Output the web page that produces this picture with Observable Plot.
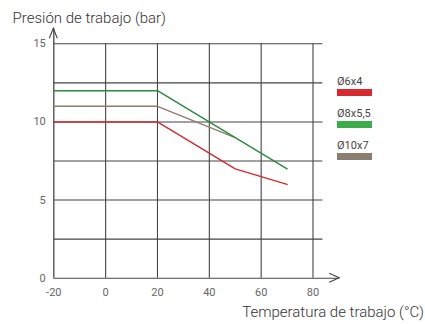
<!DOCTYPE html>
<html>
<head>
<meta charset="utf-8">
<script src="https://cdn.jsdelivr.net/npm/d3@7"></script>
<script src="https://cdn.jsdelivr.net/npm/@observablehq/plot@0.6"></script>
<style>
  body { margin: 0; background: #fff; }
  #wrap { position: relative; width: 425px; height: 324px; font-family: Roboto, "Liberation Sans", sans-serif; }
  #wrap svg { position: absolute; left: 0; top: 0; }
  .ttl { position: absolute; font-size: 15px; font-weight: 300; color: #333; white-space: nowrap; line-height: 1; }
  .leg { position: absolute; left: 337px; font-size: 11px; color: #444; line-height: 1; white-space: nowrap; }
  .sw { position: absolute; left: 337px; width: 35px; height: 6.5px; }
</style>
</head>
<body>
<div id="wrap"></div>
<script>
// ---- data ----
const temps = [-20, 20, 50, 70];
const temps10x7 = [-20, 20, 50];
const pres6x4 = [10, 10, 7, 6];
const pres8x55 = [12, 12, 9, 7];
const pres10x7 = [11, 11, 9];
const seriesNames = ["Ø6x4", "Ø8x5,5", "Ø10x7"];
const lineColors = ["#d42a30", "#2a8a3e", "#8a7e70"];
const legendColors = ["#d42a30", "#3cab4b", "#8a7e70"];
const xTicks = [-20, 0, 20, 40, 60, 80];
const yTicks = [0, 5, 10, 15];
const xGrid = [0, 20, 40, 60, 80];
const yGrid = [2.5, 5, 7.5, 10, 12.5, 15];
const yTitle = "Presión de trabajo (bar)";
const xTitle = "Temperatura de trabajo (°C)";

const rows = [];
[[temps, pres6x4], [temps, pres8x55], [temps10x7, pres10x7]].forEach(([t, p], i) => {
  t.forEach((x, j) => rows.push({serie: seriesNames[i], t: x, p: p[j]}));
});
// draw order: brown, red, green on top
const order = [seriesNames[2], seriesNames[0], seriesNames[1]];

const xMin = -20, gridEnd = 83.8, xTip = 90.3, yTip = 15.96;

const plot = Plot.plot({
  width: 425,
  height: 324,
  marginLeft: 53.3,
  marginRight: 112.5,
  marginTop: 43.3,
  marginBottom: 46.3,
  style: {fontFamily: "Roboto, 'Liberation Sans', sans-serif", fontSize: "11px", color: "#666", background: "transparent"},
  x: {domain: [-20, 80], ticks: xTicks, tickSize: 0, tickPadding: 10, tickFormat: d => String(d), label: null},
  y: {domain: [0, 15], ticks: yTicks, tickSize: 0, tickPadding: 8, tickFormat: d => String(d), label: null},
  color: {domain: seriesNames, range: lineColors},
  marks: [
    Plot.ruleY(yGrid, {x1: xMin, x2: gridEnd, stroke: "#444", strokeWidth: 1.1}),
    Plot.ruleX(xGrid, {y1: 0, y2: 15, stroke: "#444", strokeWidth: 1.1}),
    Plot.ruleY([0], {x1: xMin, x2: xTip, stroke: "#444", strokeWidth: 1.1}),
    Plot.ruleX([xMin], {y1: 0, y2: yTip, stroke: "#555", strokeWidth: 1.4}),
    ...order.map(s => Plot.line(rows.filter(d => d.serie === s), {x: "t", y: "p", stroke: "serie", strokeWidth: 1.4}))
  ]
});

const wrap = document.getElementById("wrap");
wrap.appendChild(plot);

// arrowheads drawn at scale positions
const sx = plot.scale("x"), sy = plot.scale("y");
const svg = d3.select(plot);
const ax = sx.apply(xTip), ay = sy.apply(0);
svg.append("path").attr("d", `M${ax - 10},${ay - 4.5}L${ax},${ay}L${ax - 10},${ay + 4.5}`)
  .attr("fill", "none").attr("stroke", "#444").attr("stroke-width", 1.1);
const bx = sx.apply(xMin), by = sy.apply(yTip);
svg.append("path").attr("d", `M${bx - 4},${by + 10}L${bx},${by}L${bx + 4},${by + 10}`)
  .attr("fill", "none").attr("stroke", "#444").attr("stroke-width", 1.1);

// titles
const t1 = document.createElement("div");
t1.className = "ttl"; t1.textContent = yTitle;
t1.style.left = "12.5px"; t1.style.top = "11px";
wrap.appendChild(t1);
const t2 = document.createElement("div");
t2.className = "ttl"; t2.textContent = xTitle;
t2.style.right = "1px"; t2.style.top = "305px";
wrap.appendChild(t2);

// legend
const legTop = [75.5, 107.5, 139.5];
const swTop = [89.3, 121.2, 153.4];
seriesNames.forEach((s, i) => {
  const l = document.createElement("div");
  l.className = "leg"; l.textContent = s; l.style.top = legTop[i] + "px";
  wrap.appendChild(l);
  const r = document.createElement("div");
  r.className = "sw"; r.style.top = swTop[i] + "px"; r.style.background = legendColors[i];
  wrap.appendChild(r);
});
</script>
</body>
</html>
